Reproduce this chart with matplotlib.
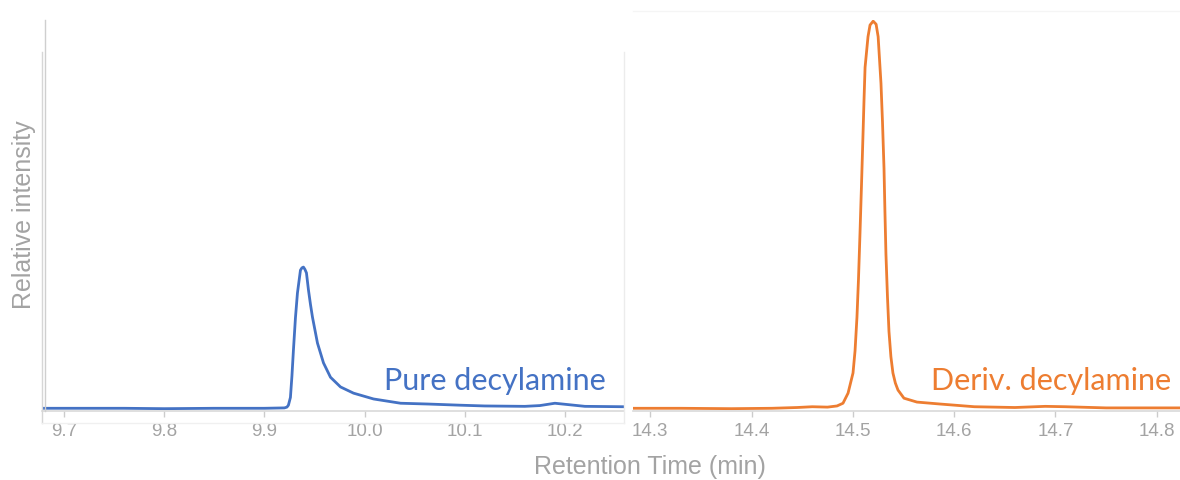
import matplotlib
matplotlib.use("Agg")
import matplotlib.pyplot as plt
from matplotlib.lines import Line2D
import numpy as np

# pure decylamine trace
pure_t = [9.678, 9.72, 9.76, 9.80, 9.85, 9.90, 9.920, 9.9225, 9.924, 9.926, 9.9275, 9.929,
          9.931, 9.933, 9.936, 9.9375, 9.939, 9.9405, 9.942, 9.944, 9.946, 9.948, 9.953,
          9.959, 9.966, 9.976, 9.989, 10.009, 10.036, 10.063, 10.095, 10.12, 10.16,
          10.175, 10.19, 10.205, 10.22, 10.259]
pure_i = [0.2, 0.2, 0.2, 0.1, 0.2, 0.2, 0.3, 0.5, 1.0, 3.0, 8.5, 15.2,
          23.5, 29.9, 35.8, 36.4, 36.6, 36.0, 35.1, 30.7, 27.0, 23.7, 17.0,
          11.9, 8.2, 5.7, 4.1, 2.6, 1.5, 1.3, 1.0, 0.8, 0.7,
          0.9, 1.5, 1.1, 0.7, 0.6]

# derivatised decylamine trace (right panel)
deriv_t = [14.283, 14.33, 14.38, 14.42, 14.445, 14.46, 14.475, 14.4844, 14.4903,
           14.4953, 14.5002, 14.5022, 14.5041, 14.5056, 14.5071, 14.5086, 14.5101,
           14.5111, 14.5121, 14.515, 14.517, 14.5201, 14.523, 14.525, 14.5278, 14.5293,
           14.5308, 14.5317, 14.5327, 14.5342, 14.5357, 14.5376, 14.5396, 14.542,
           14.5446, 14.5505, 14.5633, 14.586, 14.62, 14.66, 14.69, 14.71, 14.75, 14.823]
deriv_i = [0.2, 0.2, 0.1, 0.2, 0.4, 0.6, 0.5, 0.8, 1.5,
           4.1, 9.3, 15.0, 23.7, 33.5, 45.4, 58.0, 71.1,
           80.0, 88.1, 96.0, 99.0, 100.0, 99.2, 96.0, 84.0, 74.0,
           62.0, 51.0, 40.0, 29.0, 20.0, 13.5, 9.3, 6.7,
           4.9, 2.8, 1.8, 1.3, 0.6, 0.4, 0.7, 0.6, 0.3, 0.3]

left_ticks = [9.7, 9.8, 9.9, 10.0, 10.1, 10.2]
right_ticks = [14.3, 14.4, 14.5, 14.6, 14.7, 14.8]

blue = '#4472C4'
orange = '#ED7D31'
grey_txt = '#a3a3a3'
grey_line = '#d9d9d9'

W, H = 1180, 480
fig = plt.figure(figsize=(W / 100, H / 100), dpi=100)

def px_axes(x0, x1, y_top, y_bot):
    return fig.add_axes([x0 / W, (H - y_bot) / H, (x1 - x0) / W, (y_bot - y_top) / H])

ax1 = px_axes(42, 624, 20, 411)
ax2 = px_axes(633, 1180, 20, 411)

for ax, t, i, col, ticks, xlim in [
        (ax1, pure_t, pure_i, blue, left_ticks, (9.678, 10.259)),
        (ax2, deriv_t, deriv_i, orange, right_ticks, (14.283, 14.823))]:
    ax.plot(t, i, color=col, lw=2.0, solid_joinstyle='round', solid_capstyle='round')
    ax.set_xlim(*xlim)
    ax.set_ylim(-0.5, 100.3)
    ax.set_xticks(ticks)
    ax.set_xticklabels([f'{v:.1f}' for v in ticks], fontfamily='Liberation Sans',
                       fontsize=13.5, color=grey_txt)
    ax.set_yticks([])
    ax.tick_params(axis='x', direction='out', length=4, width=1, color='#cccccc', pad=5)
    for s in ['top', 'right', 'left']:
        ax.spines[s].set_visible(False)
    ax.spines['bottom'].set_color(grey_line)
    ax.spines['bottom'].set_linewidth(1.2)
    ax.patch.set_alpha(0)

# frame lines left over from the two screenshots
def fig_line(xs, ys, col, lw=1.0):
    fig.add_artist(Line2D([x / W for x in xs], [(H - y) / H for y in ys],
                          color=col, lw=lw))

fig_line([45, 45], [20, 411], '#cfcfcf', 1.0)
fig_line([42, 42], [52, 423], '#d6d6d6', 1.0)
fig_line([624, 624], [52, 423], '#ececec', 1.0)
fig_line([42, 624], [423, 423], '#f0f0f0', 1.0)
fig_line([633, 1180], [11, 11], '#f5f5f5', 1.0)

ax1.text(0.7775, 0.054, 'Pure decylamine', transform=ax1.transAxes, ha='center',
         va='baseline', color=blue, fontfamily='Lato', fontsize=22)
ax2.text(0.764, 0.054, 'Deriv. decylamine', transform=ax2.transAxes, ha='center',
         va='baseline', color=orange, fontfamily='Lato', fontsize=22)

fig.text(650 / W, (H - 467) / H, 'Retention Time (min)', ha='center', va='center',
         fontfamily='Liberation Sans', fontsize=18, color=grey_txt)
fig.text(24 / W, (H - 215) / H, 'Relative intensity', ha='center', va='center',
         rotation=90, fontfamily='Liberation Sans', fontsize=18, color=grey_txt)

fig.savefig('out.png', dpi=100)
